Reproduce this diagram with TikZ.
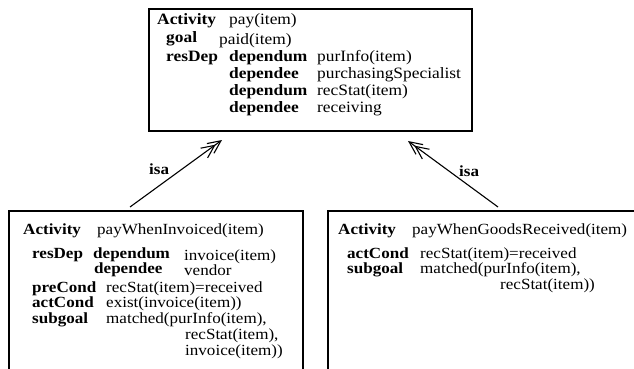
\documentclass[tikz,border=0pt]{standalone}
\usepackage{fontspec}
\setmainfont{Liberation Serif}[FakeStretch=1.1]
\usetikzlibrary{arrows.meta}
\begin{document}
\begin{tikzpicture}[x=1pt,y=-1pt,
  txt/.style={anchor=base west, inner sep=0pt, font=\fontsize{15.5}{15.5}\selectfont},
  kw/.style={anchor=base west, inner sep=0pt, font=\fontsize{15.5}{15.5}\selectfont\bfseries},
  ttxt/.style={anchor=base west, inner sep=0pt, font=\fontsize{15.8}{15.8}\selectfont},
  tkw/.style={anchor=base west, inner sep=0pt, font=\fontsize{15.8}{15.8}\selectfont\bfseries},
  frame/.style={draw, line width=1.3pt, rectangle, inner sep=0pt},
  isa/.style={line width=1.1pt, -{Straight Barb[length=13pt,width=12pt,line width=1.1pt,sep=-7pt] Straight Barb[length=13pt,width=12pt,line width=1.1pt]}}]
\useasboundingbox (0,0) rectangle (634,369);
\clip (0,0) rectangle (634,369);
% frames
\node[frame, minimum width=323pt, minimum height=122pt] (top) at (310.5,70) {};
\node[frame, minimum width=294pt, minimum height=200pt] (left) at (156,311) {};
\node[frame, minimum width=372pt, minimum height=200pt] (right) at (514,311) {};
% top box text
\node[tkw]  (t1a) at (157,25) {Activity};
\node[ttxt] (t1b) at (229,25) {pay(item)};
\node[tkw]  (t2a) at (166,43) {goal};
\node[ttxt] (t2b) at (219,45) {paid(item)};
\node[tkw]  (t3a) at (166,61) {resDep};
\node[tkw]  (t3b) at (229,61) {dependum};
\node[ttxt] (t3c) at (317,61) {purInfo(item)};
\node[tkw]  (t4a) at (229,78) {dependee};
\node[ttxt] (t4b) at (317,78) {purchasingSpecialist};
\node[tkw]  (t5a) at (229,95) {dependum};
\node[ttxt] (t5b) at (317,95) {recStat(item)};
\node[tkw]  (t6a) at (229,112) {dependee};
\node[ttxt] (t6b) at (317,112) {receiving};
% left box text
\node[kw]  (l1a) at (23,234) {Activity};
\node[txt] (l1b) at (97,234) {payWhenInvoiced(item)};
\node[kw]  (l2a) at (32,258) {resDep};
\node[kw]  (l2b) at (93,258) {dependum};
\node[txt] (l2c) at (184,260) {invoice(item)};
\node[kw]  (l3a) at (94,273) {dependee};
\node[txt] (l3b) at (184,275) {vendor};
\node[kw]  (l4a) at (32,292) {preCond};
\node[txt] (l4b) at (106,292) {recStat(item)=received};
\node[kw]  (l5a) at (32,307) {actCond};
\node[txt] (l5b) at (106,307) {exist(invoice(item))};
\node[kw]  (l6a) at (32,323) {subgoal};
\node[txt] (l6b) at (106,323) {matched(purInfo(item),};
\node[txt] (l7)  at (185,339) {recStat(item),};
\node[txt] (l8)  at (185,355) {invoice(item))};
% right box text
\node[kw]  (r1a) at (338,234) {Activity};
\node[txt] (r1b) at (412,234) {payWhenGoodsReceived(item)};
\node[kw]  (r2a) at (347,258) {actCond};
\node[txt] (r2b) at (420,258) {recStat(item)=received};
\node[kw]  (r3a) at (347,273) {subgoal};
\node[txt] (r3b) at (420,273) {matched(purInfo(item),};
\node[txt] (r4)  at (500,289) {recStat(item))};
% isa connectors
\coordinate (ls) at (130,207);
\coordinate (le) at (222,140);
\coordinate (rs) at (498,207);
\coordinate (re) at (408,141);
\draw[isa] (ls) -- (le);
\draw[isa] (rs) -- (re);
\node[kw] (isa1) at (149,174) {isa};
\node[kw] (isa2) at (459,176) {isa};
\end{tikzpicture}
\end{document}
